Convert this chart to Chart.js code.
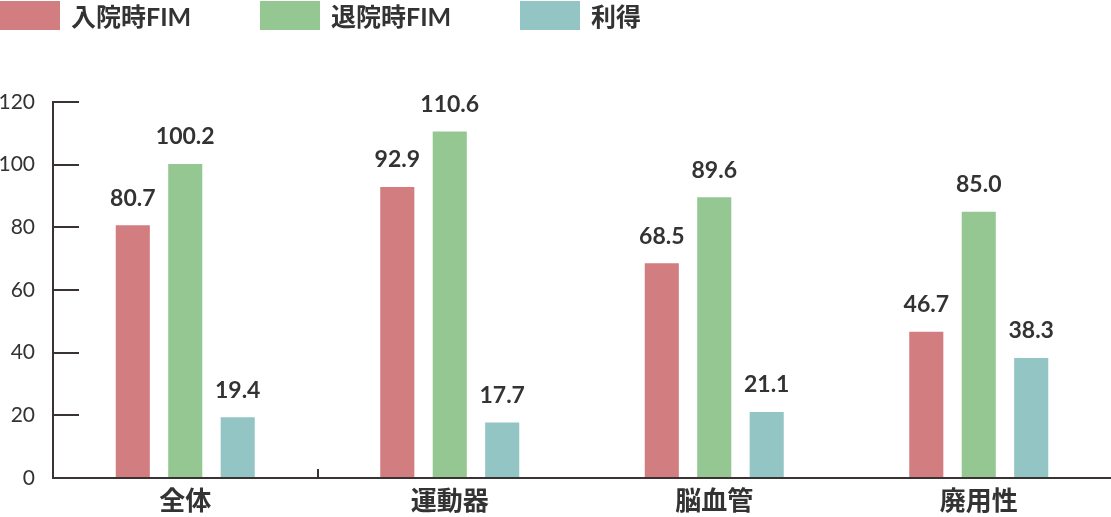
<!DOCTYPE html>
<html lang="ja">
<head>
<meta charset="utf-8">
<script src="https://cdn.jsdelivr.net/npm/chart.js@4.4.1/dist/chart.umd.min.js"></script>
<style>
html, body { margin: 0; padding: 0; background: #fff; }
#wrap { position: relative; width: 1111px; height: 517px; }
#legend { position: absolute; left: 0; top: 0; display: flex; font: bold 25px Lato, 'Noto Sans CJK JP', sans-serif; color: #333; }
#legend .item { display: flex; align-items: center; width: 260px; height: 30px; }
#legend .box { width: 60px; height: 29px; margin-right: 11px; }
</style>
</head>
<body>
<div id="wrap">
  <div id="legend"></div>
  <canvas id="c" width="1111" height="517"></canvas>
</div>
<script>
"use strict";

// data
const categories = ['全体', '運動器', '脳血管', '廃用性'];
const seriesNames = ['入院時FIM', '退院時FIM', '利得'];
const admission = [80.7, 92.9, 68.5, 46.7];
const discharge = [100.2, 110.6, 89.6, 85.0];
const gain = [19.4, 17.7, 21.1, 38.3];
const yTicks = [0, 20, 40, 60, 80, 100, 120];

const seriesColors = ['#d27d80', '#95c793', '#93c5c4'];
const axisColor = '#3a3333';
const textColor = '#333';
const fontFamily = "Lato, 'Noto Sans CJK JP', sans-serif";

// numbers above every bar, taken from the bar elements themselves
const valueLabels = {
    id: 'valueLabels',
    afterDatasetsDraw: function (chart) {
        const ctx = chart.ctx;
        ctx.save();
        ctx.font = 'bold 23px ' + fontFamily;
        ctx.fillStyle = textColor;
        ctx.textAlign = 'center';
        ctx.textBaseline = 'middle';
        chart.data.datasets.forEach((ds, i) => {
            chart.getDatasetMeta(i).data.forEach((bar, j) => {
                ctx.fillText(ds.data[j].toFixed(1), bar.x, bar.y - 27);
            });
        });
        ctx.restore();
    },
};

const chart = new Chart(document.getElementById('c'), {
    type: 'bar',
    data: {
        labels: categories,
        datasets: [admission, discharge, gain].map((values, i) => ({
            label: seriesNames[i],
            data: values,
            backgroundColor: seriesColors[i],
            borderWidth: 0,
            categoryPercentage: 0.595,
            barPercentage: 0.65,
        })),
    },
    options: {
        responsive: false,
        animation: false,
        layout: { padding: { top: 102, left: 0, right: 0, bottom: 0 } },
        plugins: {
            legend: { display: false },
            tooltip: { enabled: false },
        },
        scales: {
            x: {
                afterFit: (scale) => { scale.height = 39; },
                grid: {
                    drawOnChartArea: false,
                    tickLength: -9,
                    lineWidth: 2,
                    // the reference only shows the mark between the first two groups
                    color: (c) => c.index === 1 ? axisColor : 'rgba(0,0,0,0)',
                },
                border: { color: axisColor, width: 2 },
                ticks: {
                    padding: 17,
                    color: textColor,
                    font: { family: fontFamily, size: 26, weight: 'bold' },
                },
            },
            y: {
                min: 0,
                max: 120,
                // ticks point inwards, so the big label padding must not widen the axis
                afterFit: (scale) => {
                    scale.width = 53;
                    scale.paddingTop = 12;
                    scale.paddingBottom = 12;
                },
                afterBuildTicks: (scale) => {
                    scale.ticks = yTicks.map((v) => ({ value: v }));
                },
                grid: {
                    drawOnChartArea: false,
                    tickLength: -26,
                    lineWidth: 2,
                    color: axisColor,
                },
                border: { color: axisColor, width: 2 },
                ticks: {
                    padding: 44,
                    color: textColor,
                    font: { family: fontFamily, size: 21 },
                },
            },
        },
    },
    plugins: [valueLabels],
});

// legend as plain html, built from the chart's datasets
const legendEl = document.getElementById('legend');
chart.data.datasets.forEach((ds) => {
    const item = document.createElement('div');
    item.className = 'item';
    const box = document.createElement('span');
    box.className = 'box';
    box.style.background = ds.backgroundColor;
    const txt = document.createElement('span');
    txt.textContent = ds.label;
    item.appendChild(box);
    item.appendChild(txt);
    legendEl.appendChild(item);
});
</script>
</body>
</html>
